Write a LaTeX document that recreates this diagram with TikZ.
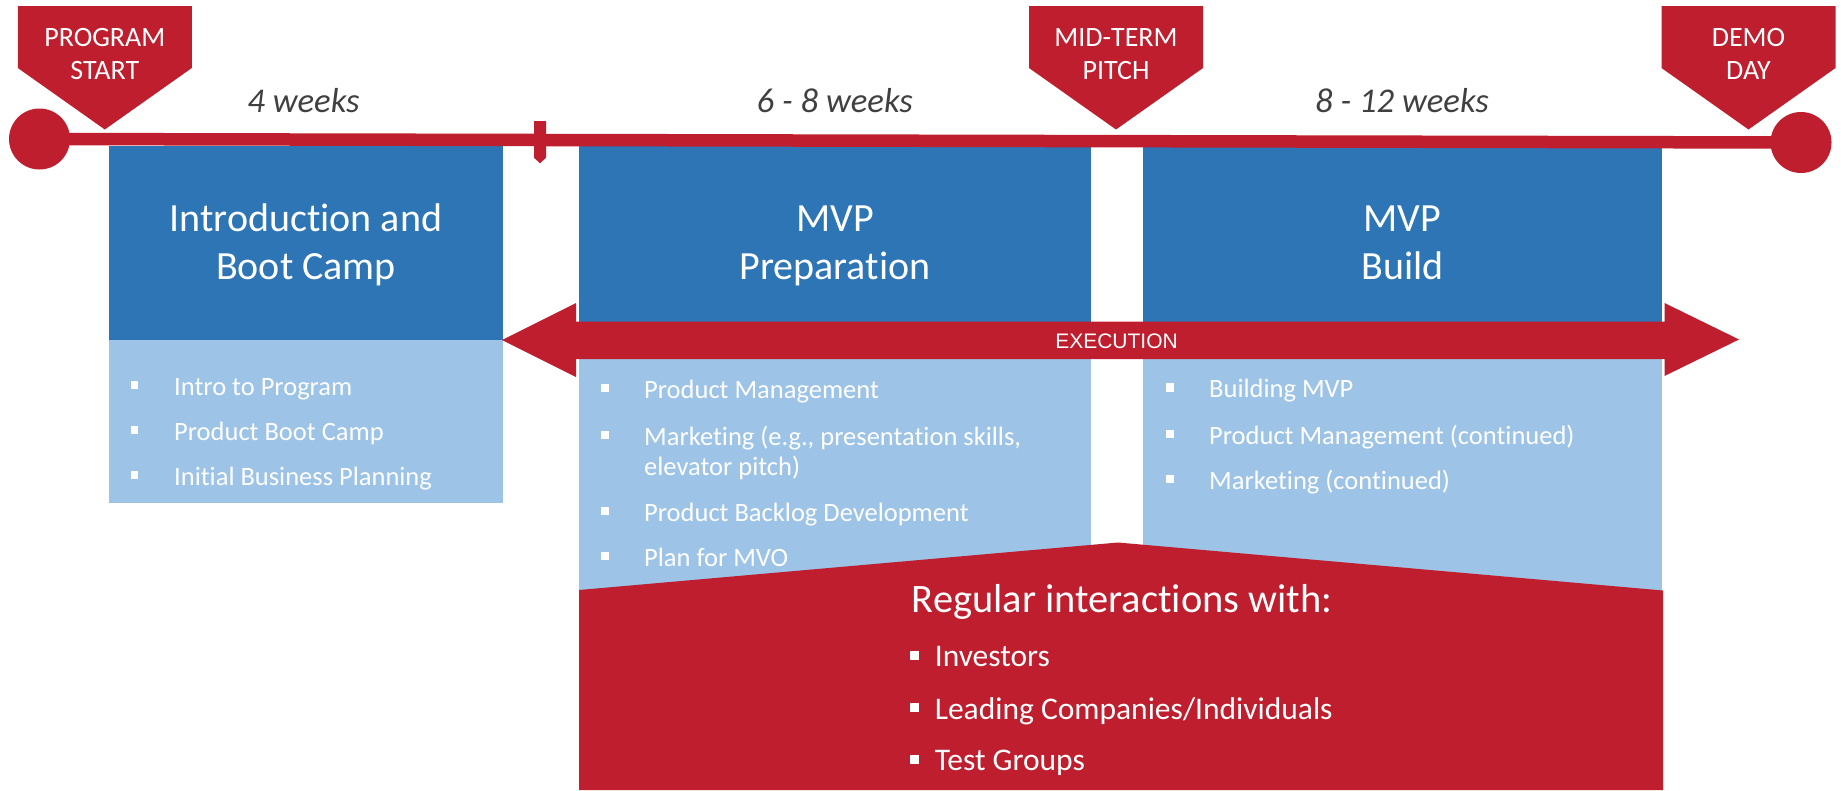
\documentclass[tikz,border=0pt]{standalone}
\usepackage{fontspec}
\setmainfont{Carlito}[Ligatures=NoCommon]
\newfontfamily\arialfont{Liberation Sans}
\usetikzlibrary{positioning}

\definecolor{progred}{RGB}{190,30,45}
\definecolor{phaseblue}{RGB}{46,117,182}
\definecolor{listblue}{RGB}{157,195,230}
\definecolor{weekgray}{RGB}{64,64,64}

\tikzset{
	milestone/.style={text=white, align=center, anchor=base, inner sep=0, font=\fontsize{28}{33}\selectfont},
	weeks/.style={text=weekgray, anchor=base, inner sep=0, font=\itshape\fontsize{34.7}{40}\selectfont},
	phasetitle/.style={text=white, align=center, anchor=base, inner sep=0, font=\fontsize{40}{47.3}\selectfont},
	listitem/.style={text=white, align=left, anchor=base west, inner sep=0, font=\fontsize{26.5}{30.7}\selectfont},
	contactitem/.style={text=white, anchor=base west, inner sep=0, font=\fontsize{31.5}{35}\selectfont},
	dot/.style={circle, fill=progred, minimum size=61pt, inner sep=0}
}

\begin{document}
\begin{tikzpicture}[x=1pt,y=-1pt]
	\useasboundingbox (0,0) rectangle (1841,790);
	% phase boxes
	\fill[phaseblue] (109,146) rectangle (503,340);
	\fill[listblue] (109,340) rectangle (503,503);
	\fill[phaseblue] (579,146) rectangle (1091,340);
	\fill[listblue] (579,340) rectangle (1091,600);
	\fill[phaseblue] (1143,147) rectangle (1662,340);
	\fill[listblue] (1143,340) rectangle (1662,600);
	% timeline
	\node(tstart) at (39.5,139) [dot] {};
	\node(tend) at (1801,142.5) [dot] {};
	\draw[progred, line width=12.5pt] (tstart.center) -- (tend.center);
	\fill[progred] (534,121) -- (546,121) -- (546,157.7) -- (540,163.3) -- (534,157.7) -- cycle;
	% milestones (base = last line)
	\foreach \x/\name/\txt in {104.8/mstart/{PROGRAM\\START}, 1116/mmid/{MID-TERM\\PITCH}, 1748.5/mdemo/{DEMO\\DAY}}{
		\fill[progred] (\x-87,6) -- (\x+87,6) -- (\x+87,68) -- (\x,129.5) -- (\x-87,68) -- cycle;
		\node(\name) at (\x,79) [milestone] {\txt};
	}
	% durations
	\node(w1) at (303.5,112) [weeks] {4 weeks};
	\node(w2) at (834.8,112) [weeks] {6 - 8 weeks};
	\node(w3) at (1402,112) [weeks] {8 - 12 weeks};
	% titles
	\node(t1) at (306,279) [phasetitle] {Introduction and\\Boot Camp};
	\node(t2) at (835,279) [phasetitle] {MVP\\Preparation};
	\node(t3) at (1402.5,279) [phasetitle] {MVP\\Build};
	% execution arrow
	\fill[progred] (502,340) -- (576,303) -- (576,321.5) -- (1664.5,321.5) -- (1664.5,303) -- (1739,339.5)
		-- (1664.5,376) -- (1664.5,359) -- (576,359) -- (576,377) -- cycle;
	\node(exec) at (1116.5,341) [text=white, inner sep=0, font=\arialfont\fontsize{21}{25}\selectfont] {EXECUTION};
	% lists
	\foreach \y/\txt in {395/Intro to Program, 440/Product Boot Camp, 485/Initial Business Planning}{
		\fill[white] (130.7,\y-14.3) rectangle ++(7.7,8.3);
		\node[listitem] at (174,\y) {\txt};
	}
	\foreach \y/\txt in {398.3/Product Management, 521/Product Backlog Development, 566/Plan for MVO}{
		\fill[white] (600.5,\y-14.3) rectangle ++(8,8.3);
		\node[listitem] at (644,\y) {\txt};
	}
	\fill[white] (600.5,445-14.3) rectangle ++(8,8.3);
	\node(mkt) at (644,475.7) [listitem] {Marketing (e.g., presentation skills,\\elevator pitch)};
	\foreach \y/\txt in {397.7/Building MVP, 444/Product Management (continued), 489.3/Marketing (continued)}{
		\fill[white] (1165.5,\y-14.3) rectangle ++(8,8.3);
		\node[listitem] at (1209,\y) {\txt};
	}
	% interactions
	\fill[progred] (579,590) -- (1118,542.5) -- (1663,590.5) -- (1663,790) -- (579,790) -- cycle;
	\node(reg) at (911.6,612.7) [text=white, anchor=base west, inner sep=0, font=\fontsize{40.4}{45}\selectfont] {Regular interactions with:};
	\foreach \y/\txt in {666.7/Investors, 719/{Leading Companies/Individuals}, 770.7/Test Groups}{
		\fill[white] (910,\y-16) rectangle ++(8.8,9.3);
		\node[contactitem] at (934.6,\y) {\txt};
	}
\end{tikzpicture}
\end{document}
